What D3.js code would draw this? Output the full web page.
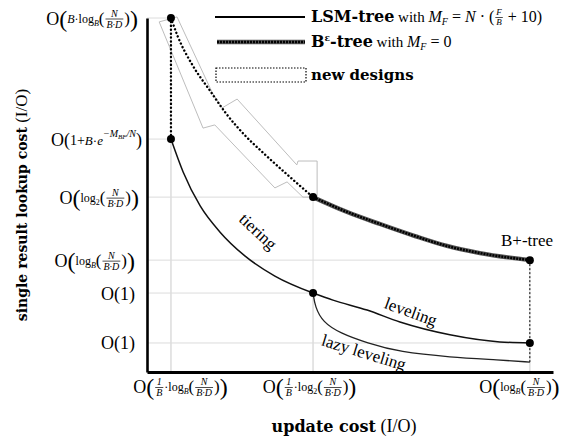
<!DOCTYPE html>
<html>
<head>
<meta charset="utf-8">
<script src="https://cdnjs.cloudflare.com/ajax/libs/d3/7.8.5/d3.min.js"></script>
<style>
  body { margin: 0; background: #fff; }
  svg text { font-family: "Liberation Serif", serif; fill: #000; white-space: pre; }
  .bold { font-family: "DejaVu Serif", serif; font-weight: bold; }
</style>
</head>
<body>
<svg id="chart" width="577" height="443"></svg>
<script>
// abstract cost units (0..100 on both axes)
const xTicks = [5.9, 40.9, 94.3];
const yTicks = [100, 65.8, 49.4, 31.6, 22.3, 8.2];

const newDesignCurve = [[5.9,100],[7.5,95],[11.3,86.5],[15.5,79.5],[19.5,73],[24,67],[29,61.5],[34.5,55.8],[40.9,49.4]];
const betreeCurve = [[40.9,49.4],[49.3,45.2],[57.4,41.8],[66.0,38.4],[73.9,35.6],[82.0,33.6],[94.3,31.6]];
const tieringCurve = [[5.9,65.8],[8.9,56.5],[13.1,46.9],[18.0,39.5],[24.1,32.8],[31.5,27.1],[40.9,22.3]];
const levelingCurve = [[40.9,22.3],[45.8,20.3],[54.2,17.5],[62.3,14.1],[74.6,10.5],[86.9,8.5],[94.3,8.2]];
const lazyCurve = [[40.9,22.3],[41.4,18.4],[43.3,14.1],[47.5,11.0],[54.2,8.2],[62.3,5.6],[74.6,4.2],[86.9,3.4],[94.3,2.8]];
const newDesignArea = [[3.0,98.9],[7.4,100.3],[16.0,79.1],[18.5,74.6],[22.2,77.1],[36.9,58.5],[37.2,59.6],[41.9,59.6],[41.9,49.4],[38.4,49.4],[34.5,53.7],[31.5,52.0],[16.7,69.8],[13.8,68.9]];
const keyPoints = [[5.9,100],[5.9,65.8],[40.9,49.4],[94.3,31.6],[40.9,22.3],[94.3,8.2]];
const bplusDrop = [[94.3,31.6],[94.3,2.8]];

const svg = d3.select("#chart");
const x = d3.scaleLinear().domain([0, 100]).range([147, 553]);
const y = d3.scaleLinear().domain([0, 100]).range([372, 18]);

// tiny math typesetter: tokens laid out left to right, y=0 is the math axis
function T(t, s, o) { return Object.assign({t: t, s: s}, o || {}); }
function F(num, den, s) { return {num: num, den: den, s: s}; }
function put(g, k, cx) {
  if (k.num) {
    const a = g.append("text").attr("y", -2).style("font-size", k.s + "px").style("font-style", "italic").attr("text-anchor", "middle").text(k.num);
    const b = g.append("text").attr("y", k.s - 1).style("font-size", k.s + "px").style("font-style", "italic").attr("text-anchor", "middle").text(k.den);
    const w = Math.max(a.node().getComputedTextLength(), b.node().getComputedTextLength()) + 2;
    a.attr("x", cx + 1 + w / 2);
    b.attr("x", cx + 1 + w / 2);
    g.append("line").attr("x1", cx + 1).attr("x2", cx + 1 + w).attr("y1", 0.5).attr("y2", 0.5)
      .attr("stroke", "#000").attr("stroke-width", 0.7);
    return w + 2;
  }
  const t = g.append("text").attr("x", cx).attr("y", k.dy || 0)
    .attr("text-anchor", "start").style("font-size", k.s + "px").text(k.t);
  if (k.i) t.style("font-style", "italic");
  if (k.b) t.attr("class", "bold");
  return t.node().getComputedTextLength();
}
function math(sel, toks, align, dx, dy) {
  const g = sel.append("g").attr("text-anchor", "start");
  let cx = 0;
  toks.forEach(k => { cx += put(g, k, cx); });
  const sh = align === "end" ? -cx : align === "middle" ? -cx / 2 : 0;
  g.attr("transform", `translate(${sh + (dx || 0)},${dy || 0})`);
  return g;
}

const O = T("O", 18, {dy: 6});
const bigL = T("(", 24, {dy: 8}), bigR = T(")", 24, {dy: 8});
const midL = T("(", 17, {dy: 5}), midR = T(")", 17, {dy: 5});
const nbd = F("N", "B·D", 10);
const logB = [T("log", 12, {dy: 4}), T("B", 8, {i: true, dy: 7})];
const log2 = [T("log", 12, {dy: 4}), T("2", 8, {dy: 7})];

const yLabels = [
  [O, bigL, T("B", 12, {i: true, dy: 4}), T("·", 12, {dy: 4})].concat(logB, [midL, nbd, midR, bigR]),
  [O, T("(", 18, {dy: 6}), T("1+", 14, {dy: 5}), T("B", 13, {i: true, dy: 5}), T("·", 13, {dy: 5}), T("e", 13, {i: true, dy: 5}),
   T("−M", 10, {i: true, dy: -3}), T("BF", 7, {i: true, dy: -1}), T("/N", 10, {i: true, dy: -3}), T(")", 18, {dy: 6})],
  [O, bigL].concat(log2, [midL, nbd, midR, bigR]),
  [O, bigL].concat(logB, [midL, nbd, midR, bigR]),
  [T("O(1)", 18, {dy: 6})],
  [T("O(1)", 18, {dy: 6})]
];
const xLabels = [
  [O, bigL, F("1", "B", 10), T("·", 12, {dy: 4})].concat(logB, [midL, nbd, midR, bigR]),
  [O, bigL, F("1", "B", 10), T("·", 12, {dy: 4})].concat(log2, [midL, nbd, midR, bigR]),
  [O, bigL].concat(logB, [midL, nbd, midR, bigR])
];
const yLabelShift = [-9, -5, -8, -12, -12, -12];
const xLabelShift = [9, -4, -11];

// drop lines to the axes
const grid = svg.append("g").attr("stroke", "#dcdcdc").attr("stroke-width", 1);
grid.selectAll(".h").data(keyPoints).join("line")
  .attr("x1", x(0)).attr("x2", d => x(d[0])).attr("y1", d => y(d[1])).attr("y2", d => y(d[1]));
grid.selectAll(".v").data(keyPoints).join("line")
  .attr("x1", d => x(d[0])).attr("x2", d => x(d[0])).attr("y1", d => y(d[1])).attr("y2", y(0));

// new design region
svg.append("path").datum(newDesignArea)
  .attr("d", d3.line().x(d => x(d[0])).y(d => y(d[1])).curve(d3.curveLinearClosed))
  .attr("fill", "none").attr("stroke", "#b5b5b5").attr("stroke-width", 0.9);

const line = d3.line().x(d => x(d[0])).y(d => y(d[1])).curve(d3.curveMonotoneX);

// dotted tradeoff of new designs
svg.append("path").datum(newDesignCurve).attr("d", line)
  .attr("fill", "none").attr("stroke", "#000").attr("stroke-width", 2.4)
  .attr("stroke-linecap", "round").attr("stroke-dasharray", "0.1,3.8");
svg.append("line")
  .attr("x1", x(keyPoints[0][0])).attr("x2", x(keyPoints[1][0]))
  .attr("y1", y(keyPoints[0][1])).attr("y2", y(keyPoints[1][1]))
  .attr("stroke", "#000").attr("stroke-width", 2.4)
  .attr("stroke-linecap", "round").attr("stroke-dasharray", "0.1,3.8");

// B^e-tree, fuzzy thick line
svg.append("path").datum(betreeCurve).attr("d", line)
  .attr("fill", "none").attr("stroke", "#555").attr("stroke-width", 4.4);
svg.append("path").datum(betreeCurve).attr("d", line)
  .attr("fill", "none").attr("stroke", "#000").attr("stroke-width", 2.6).attr("stroke-dasharray", "2,1");

// LSM curves
svg.append("path").datum(tieringCurve).attr("d", line)
  .attr("fill", "none").attr("stroke", "#111").attr("stroke-width", 1.5);
svg.append("path").datum(levelingCurve).attr("d", line)
  .attr("fill", "none").attr("stroke", "#111").attr("stroke-width", 1.5);
svg.append("path").datum(lazyCurve).attr("d", d3.line().x(d => x(d[0])).y(d => y(d[1])).curve(d3.curveBasis))
  .attr("fill", "none").attr("stroke", "#222").attr("stroke-width", 1.3);

svg.append("line")
  .attr("x1", x(bplusDrop[0][0])).attr("x2", x(bplusDrop[1][0]))
  .attr("y1", y(bplusDrop[0][1])).attr("y2", y(bplusDrop[1][1]))
  .attr("stroke", "#000").attr("stroke-width", 1).attr("stroke-dasharray", "2,2");

svg.selectAll(".pt").data(keyPoints).join("circle")
  .attr("cx", d => x(d[0])).attr("cy", d => y(d[1])).attr("r", 4).attr("fill", "#000");

// curve annotations
function note(txt, px, py, rot) {
  svg.append("text").attr("transform", `translate(${x(px)},${y(py)}) rotate(${rot})`)
    .attr("text-anchor", "middle").style("font-size", "17px").text(txt);
}
note("tiering", 26.4, 38.5, 43);
note("leveling", 64.5, 15.5, 20);
note("lazy leveling", 53, 4.0, 17);
note("B+-tree", 93.6, 35.6, 0);

// axes
const yAxis = svg.append("g").attr("transform", `translate(${x(0)},0)`)
  .call(d3.axisLeft(y).tickValues(yTicks).tickSize(0).tickSizeOuter(0).tickFormat(""));
yAxis.select(".domain").attr("stroke", "#000").attr("stroke-width", 2.6);
yAxis.selectAll(".tick").each(function(d, i) {
  math(d3.select(this), yLabels[i], "end", yLabelShift[i], 0);
});

const xAxis = svg.append("g").attr("transform", `translate(0,${y(0)})`)
  .call(d3.axisBottom(x).tickValues(xTicks).tickSize(0).tickSizeOuter(0).tickFormat(""));
xAxis.select(".domain").attr("stroke", "#000").attr("stroke-width", 3);
xAxis.selectAll(".tick").each(function(d, i) {
  math(d3.select(this), xLabels[i], "middle", xLabelShift[i], 15);
});

// axis titles
const xt = svg.append("text").attr("x", 344).attr("y", 432).attr("text-anchor", "middle");
xt.append("tspan").attr("class", "bold").style("font-size", "16px").text("update cost");
xt.append("tspan").style("font-size", "18px").text(" (I/O)");

const yt = svg.append("text").attr("transform", "translate(27,205) rotate(-90)").attr("text-anchor", "middle");
yt.append("tspan").attr("class", "bold").style("font-size", "14px").text("single result lookup cost");
yt.append("tspan").style("font-size", "17px").text(" (I/O)");

// legend
const lg = svg.append("g");
lg.append("line").attr("x1", 215).attr("x2", 305).attr("y1", 17).attr("y2", 17)
  .attr("stroke", "#000").attr("stroke-width", 2);
lg.append("line").attr("x1", 217).attr("x2", 305).attr("y1", 42).attr("y2", 42)
  .attr("stroke", "#555").attr("stroke-width", 4.4);
lg.append("line").attr("x1", 217).attr("x2", 305).attr("y1", 42).attr("y2", 42)
  .attr("stroke", "#000").attr("stroke-width", 2.6).attr("stroke-dasharray", "2,1");
lg.append("rect").attr("x", 216).attr("y", 68).attr("width", 90).attr("height", 14)
  .attr("fill", "none").attr("stroke", "#000").attr("stroke-width", 1.2).attr("stroke-dasharray", "1.5,1.5");

const mf = [T("M", 16, {i: true, dy: 5}), T("F", 10, {i: true, dy: 8})];
math(lg.append("g").attr("transform", "translate(311,17)"),
  [T("LSM-tree", 16, {b: true, dy: 5}), T(" with ", 15, {dy: 5})].concat(mf,
  [T(" = ", 16, {dy: 5}), T("N", 16, {i: true, dy: 5}), T(" · (", 16, {dy: 5}), F("F", "B", 9), T(" + 10)", 16, {dy: 5})]), "start");
math(lg.append("g").attr("transform", "translate(311,42)"),
  [T("B", 16, {b: true, dy: 5}), T("ε", 9, {b: true, dy: -1}), T("-tree", 16, {b: true, dy: 5}), T(" with ", 15, {dy: 5})].concat(mf,
  [T(" = 0", 16, {dy: 5})]), "start");
math(lg.append("g").attr("transform", "translate(311,75)"),
  [T("new designs", 15, {b: true, dy: 5})], "start");
</script>
</body>
</html>
